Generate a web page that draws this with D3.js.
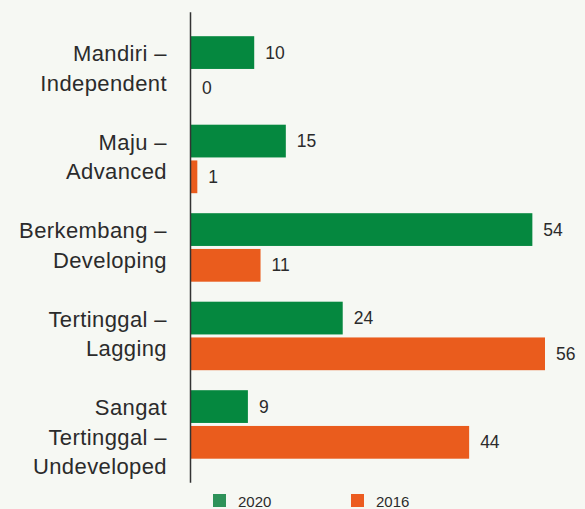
<!DOCTYPE html>
<html>
<head>
<meta charset="utf-8">
<script src="https://cdn.jsdelivr.net/npm/d3@7"></script>
<style>
  html, body { margin: 0; padding: 0; background: #f6f8f3; }
  svg { display: block; font-family: "Liberation Sans", Arial, Helvetica, sans-serif; }
</style>
</head>
<body>
<svg id="chart" width="585" height="509"></svg>
<script>
// Category labels (one array entry per line of text)
const categories = [
    ["Mandiri –", "Independent"],
    ["Maju –", "Advanced"],
    ["Berkembang –", "Developing"],
    ["Tertinggal –", "Lagging"],
    ["Sangat", "Tertinggal –", "Undeveloped"]
];
const series = ["2020", "2016"];
const values2020 = [10, 15, 54, 24, 9];
const values2016 = [0, 1, 11, 56, 44];

const width = 585;
const height = 509;
const colors = { "2020": "#05883f", "2016": "#ea5c1d" };
const legendColors = { "2020": "#2e9259", "2016": "#ec5c20" };

const svg = d3.select("#chart");

// Scales
const xScale = d3.scaleLinear()
    .domain([0, 56])
    .range([191, 545]);

const yScale = d3.scaleBand()
    .domain(d3.range(categories.length))
    .range([26.2, 468.7])
    .paddingInner(0.226)
    .paddingOuter(0.113);

const ySub = d3.scaleBand()
    .domain(series)
    .range([0, yScale.bandwidth()])
    .paddingInner(0.084);

const rows = categories.map((c, i) => ({
    lines: c,
    values: [
        { key: "2020", value: values2020[i] },
        { key: "2016", value: values2016[i] }
    ]
}));

// Bars
const groups = svg.selectAll(".group")
    .data(rows)
    .join("g")
    .attr("class", "group")
    .attr("transform", (d, i) => `translate(0,${yScale(i)})`);

groups.selectAll("rect")
    .data(d => d.values)
    .join("rect")
    .attr("x", xScale(0))
    .attr("y", d => ySub(d.key))
    .attr("width", d => xScale(d.value) - xScale(0))
    .attr("height", ySub.bandwidth())
    .attr("fill", d => colors[d.key]);

// Value labels
groups.selectAll(".val")
    .data(d => d.values)
    .join("text")
    .attr("class", "val")
    .attr("x", d => xScale(d.value) + 11)
    .attr("y", d => ySub(d.key) + ySub.bandwidth() / 2)
    .attr("dy", "0.35em")
    .attr("font-size", 17.5)
    .attr("fill", "#2b2b2b")
    .text(d => d.value);

// Category labels (top-aligned to the group, first baseline just above centre)
const lineH = 29.3;
groups.append("text")
    .attr("class", "cat")
    .attr("text-anchor", "end")
    .attr("font-size", 22)
    .attr("letter-spacing", 0.4)
    .attr("fill", "#2b2b2b")
    .each(function(d) {
        const t = d3.select(this);
        const first = yScale.bandwidth() / 2 - 9;
        d.lines.forEach((l, j) => {
            t.append("tspan")
                .attr("x", 167)
                .attr("y", first + j * lineH)
                .text(l);
        });
    });

// Vertical axis line
svg.append("line")
    .attr("x1", xScale(0) - 0.5)
    .attr("x2", xScale(0) - 0.5)
    .attr("y1", yScale.range()[0] - 14)
    .attr("y2", yScale.range()[1] + 14)
    .attr("stroke", "#333")
    .attr("stroke-width", 1.5);

// Legend
const legendX = { "2020": 213, "2016": 351 };
const legend = svg.selectAll(".legend")
    .data(series)
    .join("g")
    .attr("class", "legend")
    .attr("transform", d => `translate(${legendX[d]},494)`);

legend.append("rect")
    .attr("width", 13)
    .attr("height", 13)
    .attr("fill", d => legendColors[d]);

legend.append("text")
    .attr("x", 25)
    .attr("y", 12.7)
    .attr("font-size", 15)
    .attr("fill", "#2b2b2b")
    .text(d => d);
</script>
</body>
</html>
